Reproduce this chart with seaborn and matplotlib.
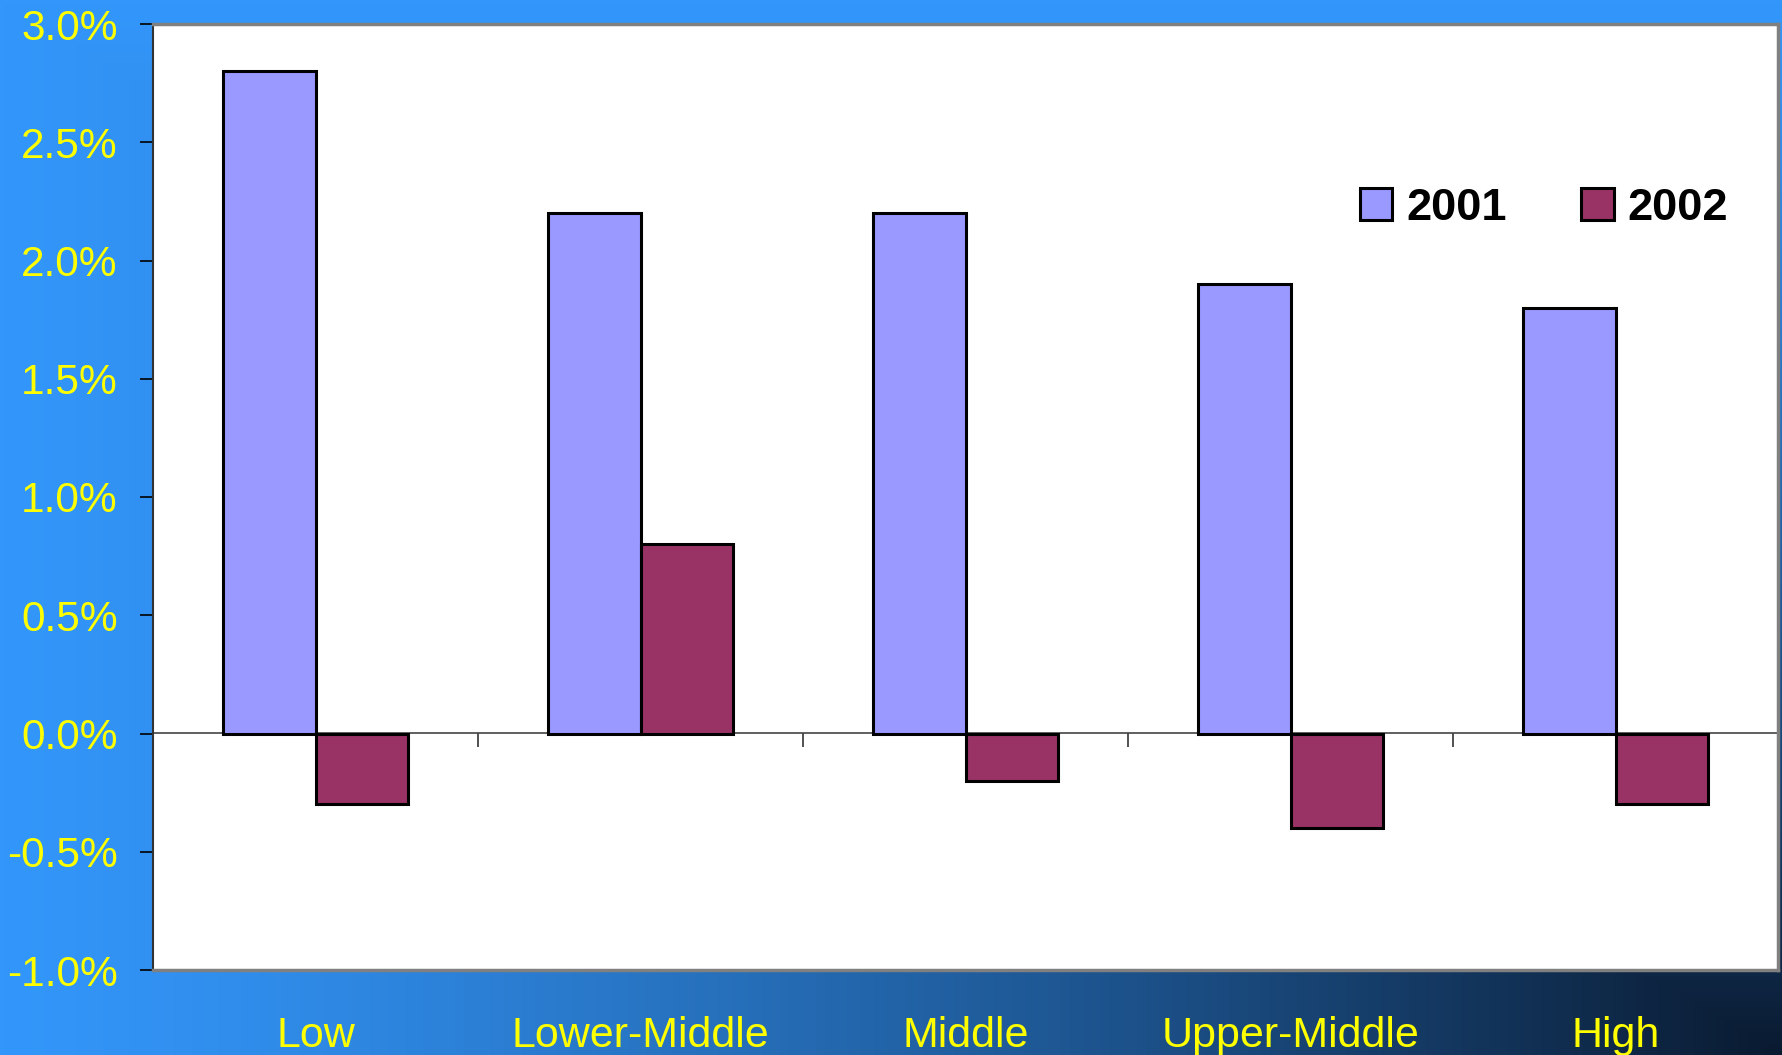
import matplotlib.pyplot as plt
import numpy as np
import pandas as pd
import seaborn as sns
from matplotlib.ticker import FuncFormatter

# data (percent)
categories = ["Low", "Lower-Middle", "Middle", "Upper-Middle", "High"]
years = ["2001", "2002"]
values_2001 = [2.8, 2.2, 2.2, 1.9, 1.8]
values_2002 = [-0.3, 0.8, -0.2, -0.4, -0.3]
y_ticks = [-1.0, -0.5, 0.0, 0.5, 1.0, 1.5, 2.0, 2.5, 3.0]

df = pd.DataFrame({
    "category": categories * 2,
    "year": [years[0]] * 5 + [years[1]] * 5,
    "value": values_2001 + values_2002,
})

sns.set_style("white")
plt.rcParams["font.family"] = ["Liberation Sans", "DejaVu Sans"]

fig = plt.figure(figsize=(17.83, 10.55), dpi=100)

# background: blue fading to dark navy towards the bottom-right corner
bg = fig.add_axes([0, 0, 1, 1], zorder=-10)
gx, gy = np.meshgrid(np.linspace(0, 1, 400), np.linspace(0, 1, 240))
t = np.minimum(gx, gy) ** 1.3
blue = np.array([51, 150, 250]) / 255
dark = np.array([10, 26, 48]) / 255
img = blue[None, None, :] + (dark - blue)[None, None, :] * t[..., None]
bg.imshow(img, aspect="auto", extent=[0, 1, 0, 1], origin="upper")
bg.set_axis_off()

ax = fig.add_axes([153 / 1783, 1 - 970 / 1055, 1625 / 1783, 946 / 1055])
ax.set_facecolor("white")

sns.barplot(
    data=df, x="category", y="value", hue="year",
    palette={"2001": "#9999FF", "2002": "#993366"}, saturation=1,
    width=4 / 7, gap=0, edgecolor="black", linewidth=2.2,
    ax=ax, zorder=3,
)

ax.set_xlim(-0.5, 4.5)
ax.set_ylim(-1.0, 3.0)
ax.set_yticks(y_ticks)
ax.yaxis.set_major_formatter(FuncFormatter(lambda v, _: f"{v:.1f}%"))
ax.tick_params(axis="y", direction="out", length=9.5, width=1.2,
               color="black", labelsize=30.5, labelcolor="#FFFF00", pad=16, left=True)
ax.tick_params(axis="x", length=0, labelsize=31, labelcolor="#FFFF00", pad=33)
ax.set_xlabel("")
ax.set_ylabel("")

for side in ["top", "right", "bottom"]:
    ax.spines[side].set_color("#808080")
    ax.spines[side].set_linewidth(2.5)
ax.spines["left"].set_color("#333333")
ax.spines["left"].set_linewidth(1.5)

# zero line with category separators
zero_ax = ax.secondary_xaxis(0.25)
zero_ax.set_xticks(np.arange(-0.5, 5.0, 1.0))
zero_ax.tick_params(direction="out", length=10, width=1.2, color="#333333", labelbottom=False)
zero_ax.spines["bottom"].set_color("#444444")
zero_ax.spines["bottom"].set_linewidth(1.2)

handles, labels = ax.get_legend_handles_labels()
ax.legend(
    handles, labels, loc="center left",
    bbox_to_anchor=(1360 / 1783, 1 - 208 / 1055), bbox_transform=fig.transFigure,
    ncol=2, frameon=False, prop={"size": 32.5, "weight": "bold"}, labelcolor="black",
    handlelength=0.72, handleheight=0.72, handletextpad=0.3,
    columnspacing=1.65, borderpad=0, borderaxespad=0,
)

fig.savefig("out.png", dpi=100)
